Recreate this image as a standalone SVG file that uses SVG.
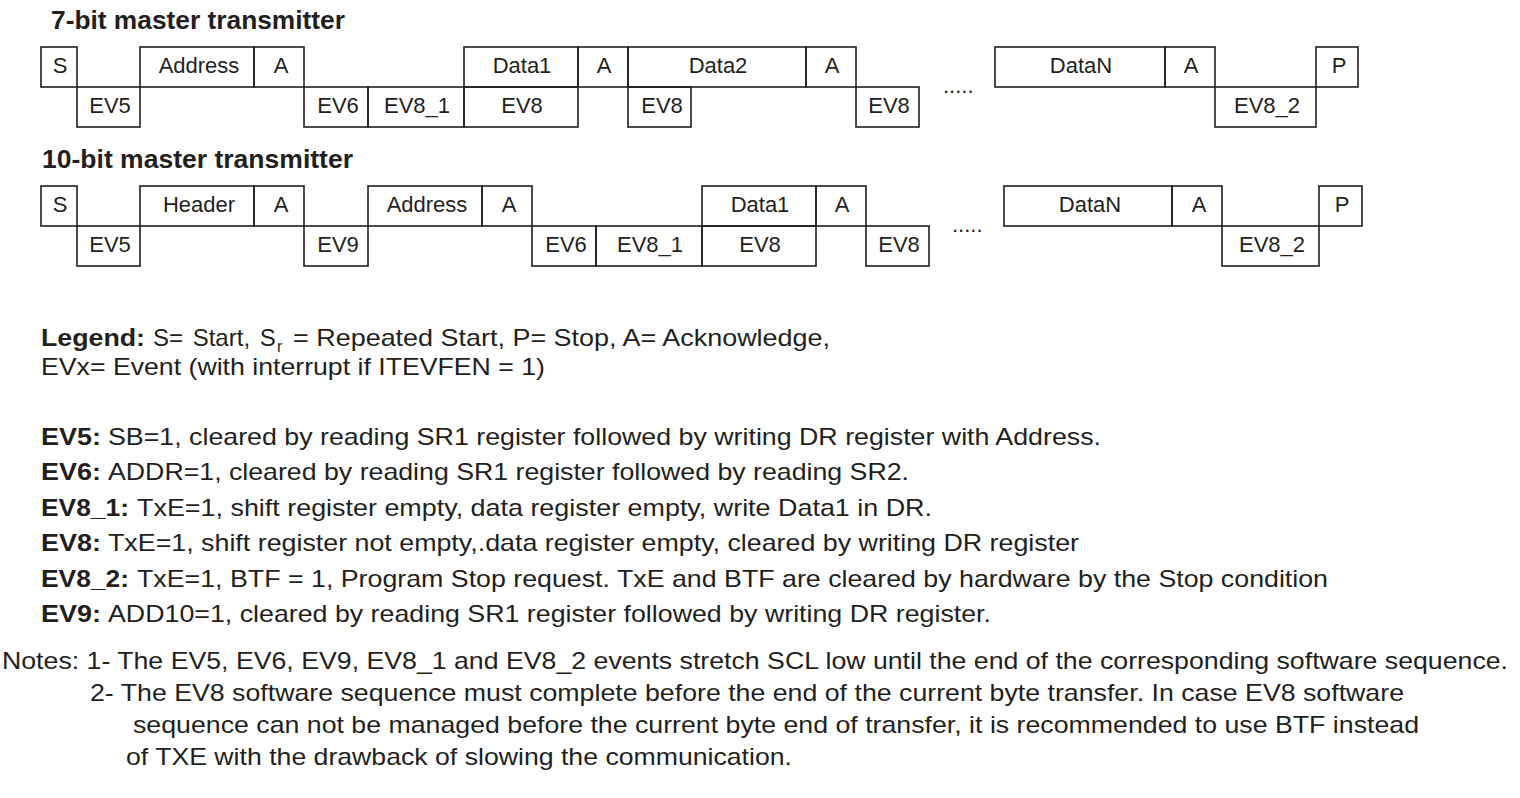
<svg xmlns="http://www.w3.org/2000/svg" width="1520" height="798" viewBox="0 0 1520 798">
  <style>
    .bx { fill: none; stroke: #231f20; stroke-width: 1.6; }
    .lb { font-family: "Liberation Sans", Arial, Helvetica, sans-serif; font-size: 22px; fill: #231f20; text-anchor: middle; }
    .ttl { font-family: "Liberation Sans", Arial, Helvetica, sans-serif; font-size: 25px; font-weight: bold; fill: #231f20; }
    .tx { font-family: "Liberation Sans", Arial, Helvetica, sans-serif; font-size: 24px; fill: #231f20; }
    .b { font-weight: bold; }
    .dots { font-family: "Liberation Sans", Arial, Helvetica, sans-serif; font-size: 22px; fill: #231f20; }
  </style>
  <rect width="1520" height="798" fill="#ffffff"/>

  <!-- 7-bit master transmitter sequence -->
  <text class="ttl" x="51" y="29" textLength="294" lengthAdjust="spacingAndGlyphs">7-bit master transmitter</text>
  <g id="row7">
    <g id="r7-s"><rect class="bx" x="41" y="47" width="36" height="40"/><text class="lb" x="60" y="73">S</text></g>
    <g id="r7-ev5"><rect class="bx" x="77" y="87" width="63" height="40"/><text class="lb" x="110" y="113">EV5</text></g>
    <g id="r7-address"><rect class="bx" x="140" y="47" width="114" height="40"/><text class="lb" x="199" y="73">Address</text></g>
    <g id="r7-a1"><rect class="bx" x="254" y="47" width="50" height="40"/><text class="lb" x="281" y="73">A</text></g>
    <g id="r7-ev6"><rect class="bx" x="304" y="87" width="64" height="40"/><text class="lb" x="338" y="113">EV6</text></g>
    <g id="r7-ev8_1"><rect class="bx" x="368" y="87" width="96" height="40"/><text class="lb" x="417" y="113">EV8_1</text></g>
    <g id="r7-data1"><rect class="bx" x="464" y="47" width="114" height="40"/><text class="lb" x="522" y="73">Data1</text></g>
    <g id="r7-ev8a"><rect class="bx" x="464" y="87" width="114" height="40"/><text class="lb" x="522" y="113">EV8</text></g>
    <g id="r7-a2"><rect class="bx" x="578" y="47" width="50" height="40"/><text class="lb" x="604" y="73">A</text></g>
    <g id="r7-data2"><rect class="bx" x="628" y="47" width="178" height="40"/><text class="lb" x="718" y="73">Data2</text></g>
    <g id="r7-ev8b"><rect class="bx" x="628" y="87" width="63" height="40"/><text class="lb" x="662" y="113">EV8</text></g>
    <g id="r7-a3"><rect class="bx" x="806" y="47" width="50" height="40"/><text class="lb" x="832" y="73">A</text></g>
    <g id="r7-ev8c"><rect class="bx" x="856" y="87" width="63" height="40"/><text class="lb" x="889" y="113">EV8</text></g>
    <text class="dots" x="943" y="93">.....</text>
    <g id="r7-datan"><rect class="bx" x="995" y="47" width="170" height="40"/><text class="lb" x="1081" y="73">DataN</text></g>
    <g id="r7-a4"><rect class="bx" x="1165" y="47" width="50" height="40"/><text class="lb" x="1191" y="73">A</text></g>
    <g id="r7-ev8_2"><rect class="bx" x="1215" y="87" width="101" height="40"/><text class="lb" x="1267" y="113">EV8_2</text></g>
    <g id="r7-p"><rect class="bx" x="1316" y="47" width="42" height="40"/><text class="lb" x="1339" y="73">P</text></g>
  </g>

  <!-- 10-bit master transmitter sequence -->
  <text class="ttl" x="42" y="168" textLength="311" lengthAdjust="spacingAndGlyphs">10-bit master transmitter</text>
  <g id="row10">
    <g id="r10-s"><rect class="bx" x="41" y="186" width="36" height="40"/><text class="lb" x="60" y="212">S</text></g>
    <g id="r10-ev5"><rect class="bx" x="77" y="226" width="63" height="40"/><text class="lb" x="110" y="252">EV5</text></g>
    <g id="r10-header"><rect class="bx" x="140" y="186" width="114" height="40"/><text class="lb" x="199" y="212">Header</text></g>
    <g id="r10-a1"><rect class="bx" x="254" y="186" width="50" height="40"/><text class="lb" x="281" y="212">A</text></g>
    <g id="r10-ev9"><rect class="bx" x="304" y="226" width="64" height="40"/><text class="lb" x="338" y="252">EV9</text></g>
    <g id="r10-address"><rect class="bx" x="368" y="186" width="114" height="40"/><text class="lb" x="427" y="212">Address</text></g>
    <g id="r10-a2"><rect class="bx" x="482" y="186" width="50" height="40"/><text class="lb" x="509" y="212">A</text></g>
    <g id="r10-ev6"><rect class="bx" x="532" y="226" width="64" height="40"/><text class="lb" x="566" y="252">EV6</text></g>
    <g id="r10-ev8_1"><rect class="bx" x="596" y="226" width="106" height="40"/><text class="lb" x="650" y="252">EV8_1</text></g>
    <g id="r10-data1"><rect class="bx" x="702" y="186" width="114" height="40"/><text class="lb" x="760" y="212">Data1</text></g>
    <g id="r10-ev8a"><rect class="bx" x="702" y="226" width="114" height="40"/><text class="lb" x="760" y="252">EV8</text></g>
    <g id="r10-a3"><rect class="bx" x="816" y="186" width="50" height="40"/><text class="lb" x="842" y="212">A</text></g>
    <g id="r10-ev8b"><rect class="bx" x="866" y="226" width="63" height="40"/><text class="lb" x="899" y="252">EV8</text></g>
    <text class="dots" x="952" y="232">.....</text>
    <g id="r10-datan"><rect class="bx" x="1004" y="186" width="168" height="40"/><text class="lb" x="1090" y="212">DataN</text></g>
    <g id="r10-a4"><rect class="bx" x="1172" y="186" width="50" height="40"/><text class="lb" x="1199" y="212">A</text></g>
    <g id="r10-ev8_2"><rect class="bx" x="1222" y="226" width="97" height="40"/><text class="lb" x="1272" y="252">EV8_2</text></g>
    <g id="r10-p"><rect class="bx" x="1319" y="186" width="43" height="40"/><text class="lb" x="1342" y="212">P</text></g>
  </g>

  <!-- legend -->
  <g id="legend">
    <text class="tx b" x="41" y="346" textLength="104" lengthAdjust="spacingAndGlyphs">Legend:</text>
    <text class="tx" x="153" y="346" word-spacing="3">S= Start, S<tspan x="277" dy="6" font-size="16">r</tspan></text>
    <text class="tx" x="293" y="346" textLength="537" lengthAdjust="spacingAndGlyphs">= Repeated Start, P= Stop, A= Acknowledge,</text>
    <text class="tx" x="41" y="375" textLength="504" lengthAdjust="spacingAndGlyphs">EVx= Event (with interrupt if ITEVFEN = 1)</text>
  </g>

  <!-- event descriptions -->
  <g id="events">
    <text class="tx b" x="41" y="445" textLength="60" lengthAdjust="spacingAndGlyphs">EV5:</text>
    <text class="tx" x="108" y="445" textLength="993" lengthAdjust="spacingAndGlyphs">SB=1, cleared by reading SR1 register followed by writing DR register with Address.</text>
    <text class="tx b" x="41" y="480" textLength="60" lengthAdjust="spacingAndGlyphs">EV6:</text>
    <text class="tx" x="108" y="480" textLength="801" lengthAdjust="spacingAndGlyphs">ADDR=1, cleared by reading SR1 register followed by reading SR2.</text>
    <text class="tx b" x="41" y="516" textLength="88" lengthAdjust="spacingAndGlyphs">EV8_1:</text>
    <text class="tx" x="137" y="516" textLength="795" lengthAdjust="spacingAndGlyphs">TxE=1, shift register empty, data register empty, write Data1 in DR.</text>
    <text class="tx b" x="41" y="551" textLength="60" lengthAdjust="spacingAndGlyphs">EV8:</text>
    <text class="tx" x="108" y="551" textLength="971" lengthAdjust="spacingAndGlyphs">TxE=1, shift register not empty,.data register empty, cleared by writing DR register</text>
    <text class="tx b" x="41" y="587" textLength="88" lengthAdjust="spacingAndGlyphs">EV8_2:</text>
    <text class="tx" x="137" y="587" textLength="1191" lengthAdjust="spacingAndGlyphs">TxE=1, BTF = 1, Program Stop request. TxE and BTF are cleared by hardware by the Stop condition</text>
    <text class="tx b" x="41" y="622" textLength="60" lengthAdjust="spacingAndGlyphs">EV9:</text>
    <text class="tx" x="108" y="622" textLength="883" lengthAdjust="spacingAndGlyphs">ADD10=1, cleared by reading SR1 register followed by writing DR register.</text>
  </g>

  <!-- notes -->
  <g id="notes">
    <text class="tx" x="2" y="669" textLength="1506" lengthAdjust="spacingAndGlyphs">Notes: 1- The EV5, EV6, EV9, EV8_1 and EV8_2 events stretch SCL low until the end of the corresponding software sequence.</text>
    <text class="tx" x="90" y="701" textLength="1314" lengthAdjust="spacingAndGlyphs">2- The EV8 software sequence must complete before the end of the current byte transfer. In case EV8 software</text>
    <text class="tx" x="133" y="733" textLength="1286" lengthAdjust="spacingAndGlyphs">sequence can not be managed before the current byte end of transfer, it is recommended to use BTF instead</text>
    <text class="tx" x="126" y="765" textLength="666" lengthAdjust="spacingAndGlyphs">of TXE with the drawback of slowing the communication.</text>
  </g>
</svg>
